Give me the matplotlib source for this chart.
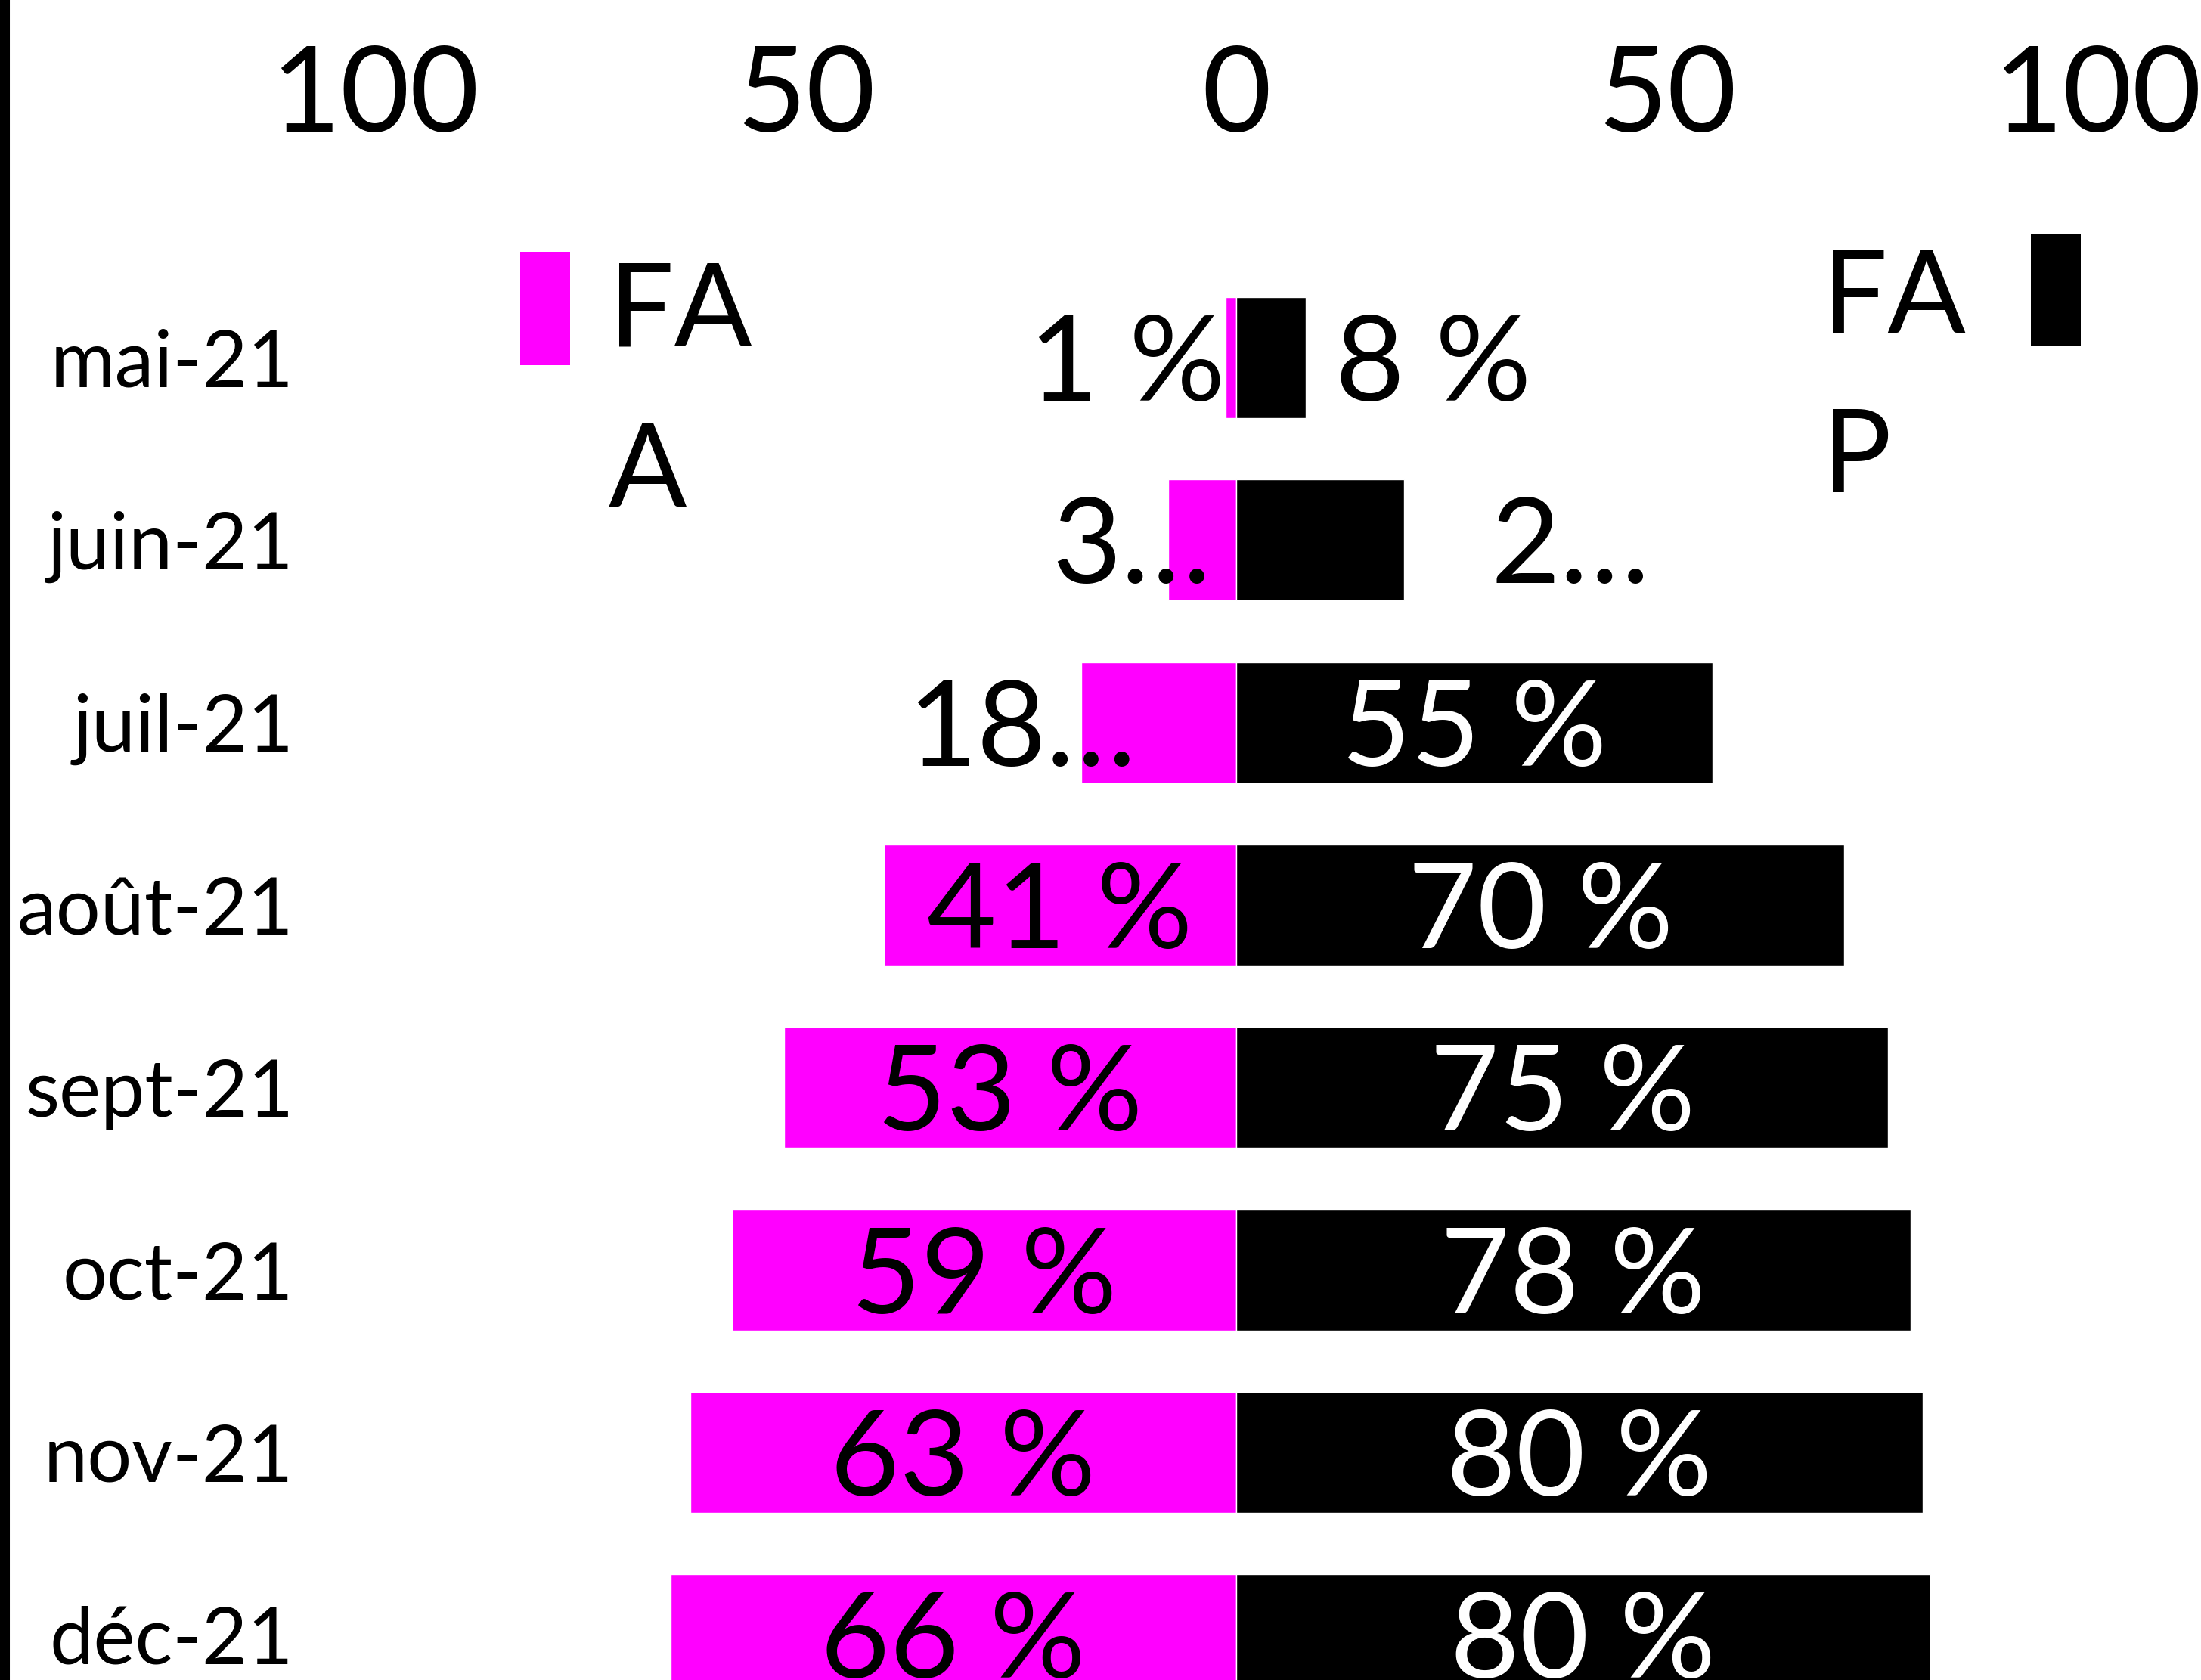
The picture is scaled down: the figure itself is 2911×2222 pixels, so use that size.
import matplotlib
matplotlib.use("Agg")
import matplotlib.pyplot as plt
from matplotlib.patches import Rectangle
from matplotlib.lines import Line2D

# ---------------- data ----------------
months = ["mai-21", "juin-21", "juil-21", "août-21", "sept-21", "oct-21", "nov-21", "déc-21"]
faa = [1.2, 7.9, 18, 40.9, 52.5, 58.6, 63.4, 65.7]
fap = [8.1, 19.5, 55.3, 70.6, 75.7, 78.3, 79.7, 80.6]
faa_labels = ["1 %", "3…", "18…", "41 %", "53 %", "59 %", "63 %", "66 %"]
fap_labels = ["8 %", "2…", "55 %", "70 %", "75 %", "78 %", "80 %", "80 %"]
xticks = [-100, -50, 0, 50, 100]
xticklabels = ["100", "50", "0", "50", "100"]
legend_faa = ["FA", "A"]
legend_fap = ["FA", "P"]

# ---------------- style ----------------
MAGENTA = "#FF00FF"
BLACK = "#000000"
plt.rcParams["font.family"] = ["Lato", "DejaVu Sans"]

W, H = 2911, 2222
fig = plt.figure(figsize=(W / 100, H / 100), dpi=100)
fig.patch.set_facecolor("white")

ax_left_px, ax_top_px = 399, 311
ax = fig.add_axes([ax_left_px / W, 0, 1 - ax_left_px / W, 1 - ax_top_px / H])

ypos = list(range(len(months)))
bar_h = 0.663
ax.barh(ypos, [-v for v in faa], height=bar_h, color=MAGENTA,
        edgecolor="white", linewidth=1.0)
ax.barh(ypos, fap, height=bar_h, color=BLACK, edgecolor="white", linewidth=1.0)

ax.set_xlim(-108.52, 112.03)
ax.set_ylim(7.248, -0.671)

ax.set_xticks(xticks)
ax.set_xticklabels(xticklabels, fontsize=114)
ax.xaxis.tick_top()
ax.tick_params(axis="x", length=0, pad=79, labelsize=114)
ax.set_yticks(ypos)
ax.set_yticklabels(months, fontsize=75)
ax.tick_params(axis="y", length=0, pad=7.5)
for s in ax.spines.values():
    s.set_visible(False)

# ---------------- value labels ----------------
LBL = 114
base_dy = -57  # pixels: put baseline below row centre so digits are centred
faa_out = {0: -131, 1: -49, 2: -79}
fap_out = {0: 168, 1: 220}
for i, (v, t) in enumerate(zip(faa, faa_labels)):
    if i in faa_out:
        ax.annotate(t, xy=(-v, i), xytext=(faa_out[i], base_dy), textcoords="offset pixels",
                    ha="center", va="baseline", fontsize=LBL, color="black")
    else:
        ax.annotate(t, xy=(-v / 2, i), xytext=(0, base_dy), textcoords="offset pixels",
                    ha="center", va="baseline", fontsize=LBL, color="black")
for i, (v, t) in enumerate(zip(fap, fap_labels)):
    if i in fap_out:
        ax.annotate(t, xy=(v, i), xytext=(fap_out[i], base_dy), textcoords="offset pixels",
                    ha="center", va="baseline", fontsize=LBL, color="black")
    else:
        ax.annotate(t, xy=(v / 2, i), xytext=(0, base_dy), textcoords="offset pixels",
                    ha="center", va="baseline", fontsize=LBL, color="white")

# ---------------- legends ----------------
fig.add_artist(Rectangle((688 / W, 1 - 483 / H), 66 / W, 150 / H,
                         transform=fig.transFigure, facecolor=MAGENTA, edgecolor="none"))
fig.text(805 / W, 1 - 458 / H, legend_faa[0], fontsize=110, va="baseline", ha="left")
fig.text(805 / W, 1 - 670 / H, legend_faa[1], fontsize=110, va="baseline", ha="left")

fig.add_artist(Rectangle((2686 / W, 1 - 458 / H), 66 / W, 149 / H,
                         transform=fig.transFigure, facecolor=BLACK, edgecolor="none"))
fig.text(2410 / W, 1 - 439 / H, legend_fap[0], fontsize=110, va="baseline", ha="left")
fig.text(2410 / W, 1 - 651 / H, legend_fap[1], fontsize=110, va="baseline", ha="left")

# left border line
fig.add_artist(Line2D([6.5 / W, 6.5 / W], [0, 1], transform=fig.transFigure,
                      color="black", linewidth=9.4))

fig.savefig("out.png", dpi=100, facecolor="white")
